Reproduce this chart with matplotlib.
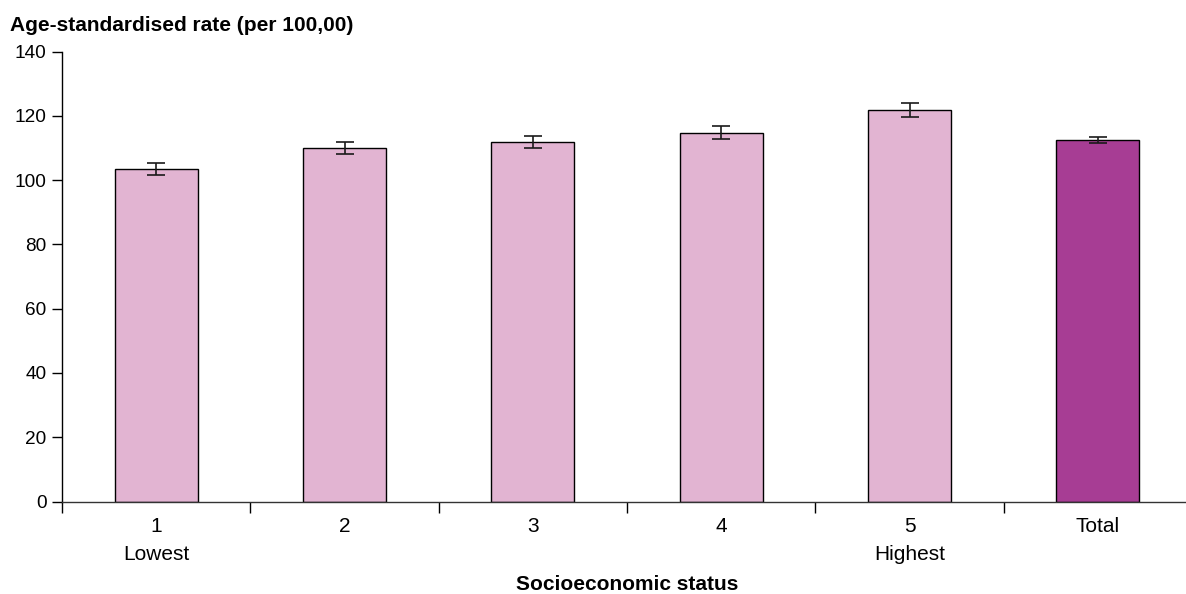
import matplotlib

matplotlib.use("Agg")
import matplotlib.pyplot as plt
import numpy as np

# data
categories = ["1\nLowest", "2", "3", "4", "5\nHighest", "Total"]
rates = [103.4, 110.1, 111.8, 114.8, 121.9, 112.6]
ci_low = [101.5, 108.3, 109.9, 112.8, 119.7, 111.6]
ci_high = [105.4, 112.0, 113.9, 117.0, 123.9, 113.5]
y_ticks = [0, 20, 40, 60, 80, 100, 120, 140]

pink = "#E2B4D2"
purple = "#A73D94"
bar_colors = [pink] * 5 + [purple]

plt.rcParams['font.family'] = ['Liberation Sans', 'DejaVu Sans']

fig = plt.figure(figsize=(11.86, 5.94), dpi=100)
ax = fig.add_axes([62 / 1186, 1 - 501.5 / 594, 1130 / 1186, (501.5 - 51.7) / 594])

x = np.arange(len(categories))
rates_arr = np.array(rates)
yerr = [rates_arr - np.array(ci_low), np.array(ci_high) - rates_arr]

ax.bar(x, rates, width=0.44, color=bar_colors, edgecolor="black", linewidth=1.0, zorder=2)
ax.errorbar(x, rates, yerr=yerr, fmt="none", ecolor="#1a1a1a", elinewidth=1.2,
            capsize=6.8, capthick=1.2, zorder=3)

ax.set_xlim(-0.5, len(categories) - 0.5)
ax.set_ylim(0, 140)
ax.set_yticks(y_ticks)
ax.tick_params(axis='y', direction='out', length=7, width=1, labelsize=13.7, pad=4)

ax.set_xticks(x)
ax.set_xticklabels(categories, linespacing=1.6)
ax.set_xticks(np.arange(len(categories) + 1) - 0.5, minor=True)
ax.tick_params(axis='x', which='major', length=0, labelsize=15, pad=11)
ax.tick_params(axis='x', which='minor', direction='out', length=8, width=1)

for side in ['top', 'right']:
    ax.spines[side].set_visible(False)
ax.spines['left'].set_linewidth(1)
ax.spines['bottom'].set_linewidth(1)
ax.spines['bottom'].set_color('#333333')

fig.text(10 / 1186, 1 - 30.7 / 594, "Age-standardised rate (per 100,00)",
         fontsize=15, fontweight='bold', ha='left', va='baseline')
fig.text(627 / 1186, 1 - 590 / 594, "Socioeconomic status",
         fontsize=15, fontweight='bold', ha='center', va='baseline')

fig.savefig("out.png", dpi=100)
